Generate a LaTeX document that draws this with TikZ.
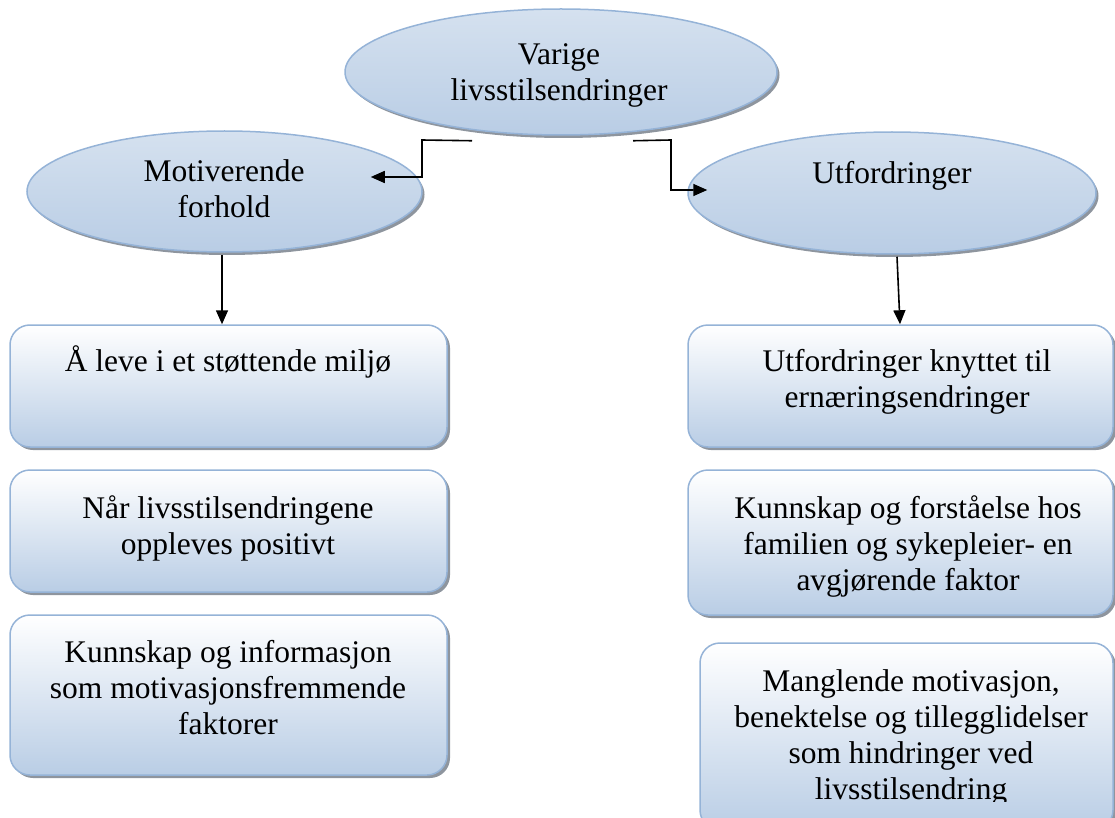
\documentclass[tikz,border=0pt]{standalone}
\usepackage{fontspec}
\setmainfont{Liberation Serif}
\usetikzlibrary{shapes.geometric,shadows,arrows.meta}
\definecolor{bord}{HTML}{95B3D7}
\definecolor{fillbot}{HTML}{B9CDE5}
\definecolor{elltop}{HTML}{D5E1EF}
\definecolor{ellmid}{HTML}{EEF3F9}
\definecolor{shadowgray}{HTML}{8E959E}
\begin{document}
\begin{tikzpicture}[x=1pt,y=-1pt,
  lbl/.style={align=center,font=\fontsize{31.5}{36}\selectfont,inner sep=0pt},
  ell/.style={ellipse,draw=bord,line width=1.5pt,inner sep=0pt,
    top color=elltop,middle color=ellmid,bottom color=fillbot,
    drop shadow={shadow xshift=2.5pt,shadow yshift=-3pt,fill=shadowgray,opacity=1}},
  box/.style={rectangle,rounded corners=20pt,draw=bord,line width=1.5pt,inner sep=0pt,
    top color=white,bottom color=fillbot,
    drop shadow={shadow xshift=3pt,shadow yshift=-3pt,fill=shadowgray,opacity=1}},
  conn/.style={line width=1.6pt,-{Triangle[length=14pt,width=12pt]}}]
\useasboundingbox (0,0) rectangle (1115,818);

% ellipses
\node[ell,minimum width=432pt,minimum height=126pt] (top) at (561,72) {};
\node[ell,minimum width=395pt,minimum height=121pt] (mot) at (224.5,191.5) {};
\node[ell,minimum width=408pt,minimum height=122pt] (utf) at (892,193) {};
\node[lbl] (topt) at (559,75) {Varige\\livsstilsendringer};
\node[lbl] (mott) at (224,189) {Motiverende\\forhold};
\node[lbl] (utft) at (892,176) {Utfordringer};

% boxes
\node[box,minimum width=437pt,minimum height=122pt] (l1) at (228.5,386) {};
\node[box,minimum width=437pt,minimum height=122pt] (l2) at (228.5,531) {};
\node[box,minimum width=437pt,minimum height=160pt] (l3) at (228.5,695) {};
\node[box,minimum width=425pt,minimum height=122pt] (r1) at (900.5,386) {};
\node[box,minimum width=425pt,minimum height=145pt] (r2) at (900.5,542.5) {};
\node[box,minimum width=413pt,minimum height=187pt] (r3) at (906.5,736.5) {};

\node[lbl] (l1t) at (228,361.5) {Å leve i et støttende miljø};
\node[lbl] (l2t) at (228,528) {Når livsstilsendringene\\oppleves positivt};
\node[lbl] (l3t) at (228,688) {Kunnskap og informasjon\\som motivasjonsfremmende\\faktorer};
\node[lbl] (r1t) at (907,382) {Utfordringer knyttet til\\ernæringsendringer};
\node[lbl] (r2t) at (908,546) {Kunnskap og forståelse hos\\familien og sykepleier- en\\avgjørende faktor};
\begin{scope}
\clip (600,600) rectangle (1115,801);
\node[lbl] (r3t) at (911,738) {Manglende motivasjon,\\benektelse og tillegglidelser\\som hindringer ved\\livsstilsendring};
\end{scope}

% connectors
\coordinate (c1s) at ([shift={(-89,5)}]top.south);
\coordinate (c1e) at ([shift={(-52,-14.5)}]mot.east);
\draw[conn] (c1s) -- (422,140) -- (422,177) -- (c1e);
\coordinate (c2s) at ([shift={(72,5)}]top.south);
\coordinate (c2e) at ([shift={(20,-3)}]utf.west);
\draw[conn] (c2s) -- (671,140) -- (671,190) -- (c2e);
\coordinate (c3s) at ([shift={(-2.5,2)}]mot.south);
\coordinate (c3e) at ([shift={(-6.5,0)}]l1.north);
\draw[conn] (c3s) -- (c3e);
\coordinate (c4s) at ([shift={(5,2)}]utf.south);
\coordinate (c4e) at ([shift={(-0.5,0)}]r1.north);
\draw[conn] (c4s) -- (c4e);
\end{tikzpicture}
\end{document}
